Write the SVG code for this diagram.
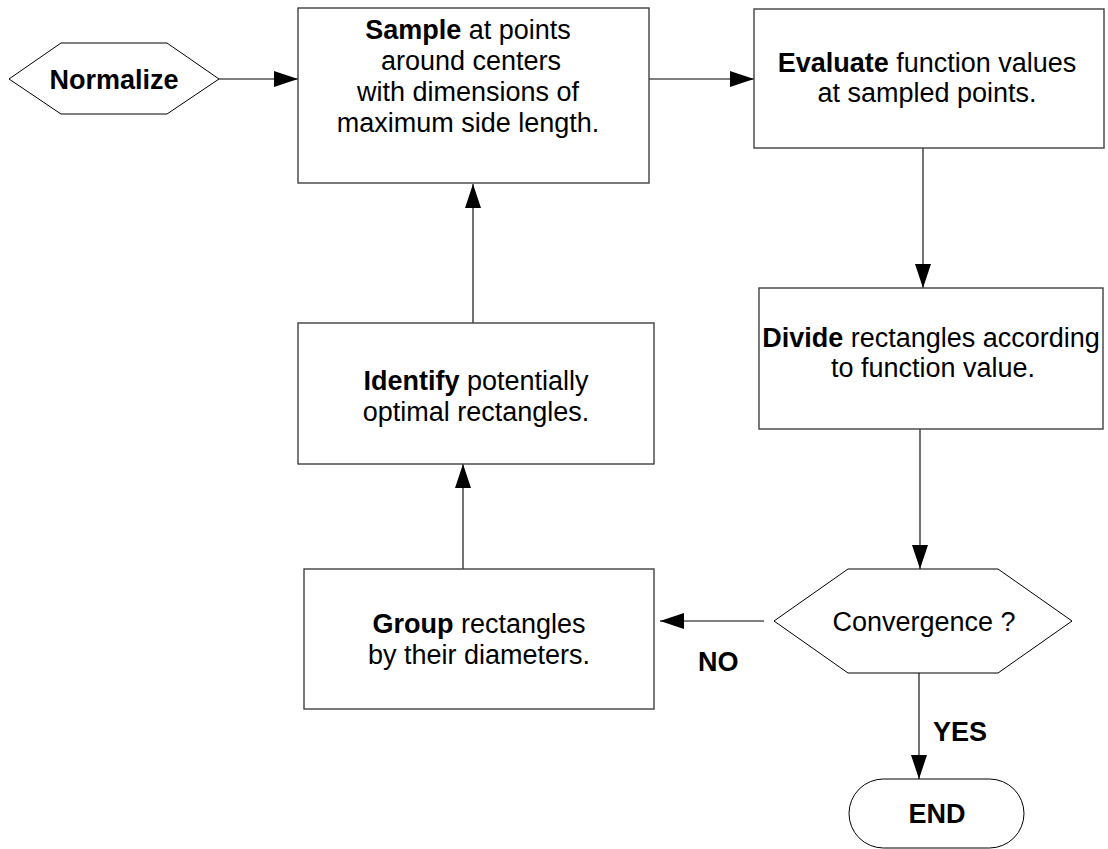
<svg xmlns="http://www.w3.org/2000/svg" width="1108" height="849" viewBox="0 0 1108 849">
<style>
text{font-family:"Liberation Sans",Arial,sans-serif;font-size:27px;fill:#000;text-anchor:middle}
.b{font-weight:bold}
.box{fill:#fff;stroke:#404040;stroke-width:1.4}
.hex{fill:#fff;stroke:#000;stroke-width:1}
.con{fill:none;stroke:#000;stroke-width:1.1}
</style>
<defs>
<marker id="arr" markerUnits="userSpaceOnUse" markerWidth="24" markerHeight="16" refX="24" refY="8" orient="auto">
<path d="M0,0 L24,8 L0,16 z" fill="#000"/>
</marker>
</defs>
<rect width="1108" height="849" fill="#fff"/>
<g id="connectors">
<line class="con" x1="219" y1="79" x2="298" y2="79" marker-end="url(#arr)"/>
<line class="con" x1="649" y1="79" x2="754" y2="79" marker-end="url(#arr)"/>
<line class="con" x1="923" y1="148" x2="923" y2="288" marker-end="url(#arr)"/>
<line class="con" x1="920" y1="429" x2="920" y2="569" marker-end="url(#arr)"/>
<line class="con" x1="919" y1="673" x2="919" y2="779" marker-end="url(#arr)"/>
<line class="con" x1="764" y1="621" x2="660" y2="621" marker-end="url(#arr)"/>
<line class="con" x1="463" y1="569" x2="463" y2="464" marker-end="url(#arr)"/>
<line class="con" x1="473" y1="323" x2="473" y2="184" marker-end="url(#arr)"/>
<text class="b" x="698" y="671" style="text-anchor:start">NO</text>
<text class="b" x="933" y="741" style="text-anchor:start">YES</text>
</g>
<g id="normalize">
<polygon class="hex" points="9,79 61,43 167,43 219,79 167,114 61,114"/>
<text class="b" x="114" y="89">Normalize</text>
</g>
<g id="sample">
<rect class="box" x="298" y="8" width="351" height="175"/>
<text x="468" y="39"><tspan class="b">Sample</tspan> at points</text>
<text x="471" y="70">around centers</text>
<text x="468" y="101">with dimensions of</text>
<text x="468" y="132">maximum side length.</text>
</g>
<g id="evaluate">
<rect class="box" x="754" y="9" width="350" height="139"/>
<text x="927" y="72"><tspan class="b">Evaluate</tspan> function values</text>
<text x="927" y="102">at sampled points.</text>
</g>
<g id="divide">
<rect class="box" x="759" y="288" width="344" height="141"/>
<text x="931" y="347"><tspan class="b">Divide</tspan> rectangles according</text>
<text x="933" y="377">to function value.</text>
</g>
<g id="convergence">
<polygon class="hex" points="774,621 848,569 998,569 1072,621 998,673 848,673"/>
<text x="924" y="631">Convergence ?</text>
</g>
<g id="end">
<rect x="849" y="779" width="175" height="69" rx="34.5" ry="34.5" fill="#fff" stroke="#000" stroke-width="1"/>
<text class="b" x="937" y="823">END</text>
</g>
<g id="group">
<rect class="box" x="304" y="569" width="350" height="140"/>
<text x="479" y="633"><tspan class="b">Group</tspan> rectangles</text>
<text x="479" y="664">by their diameters.</text>
</g>
<g id="identify">
<rect class="box" x="298" y="323" width="356" height="141"/>
<text x="476" y="390"><tspan class="b">Identify</tspan> potentially</text>
<text x="476" y="421">optimal rectangles.</text>
</g>
</svg>
